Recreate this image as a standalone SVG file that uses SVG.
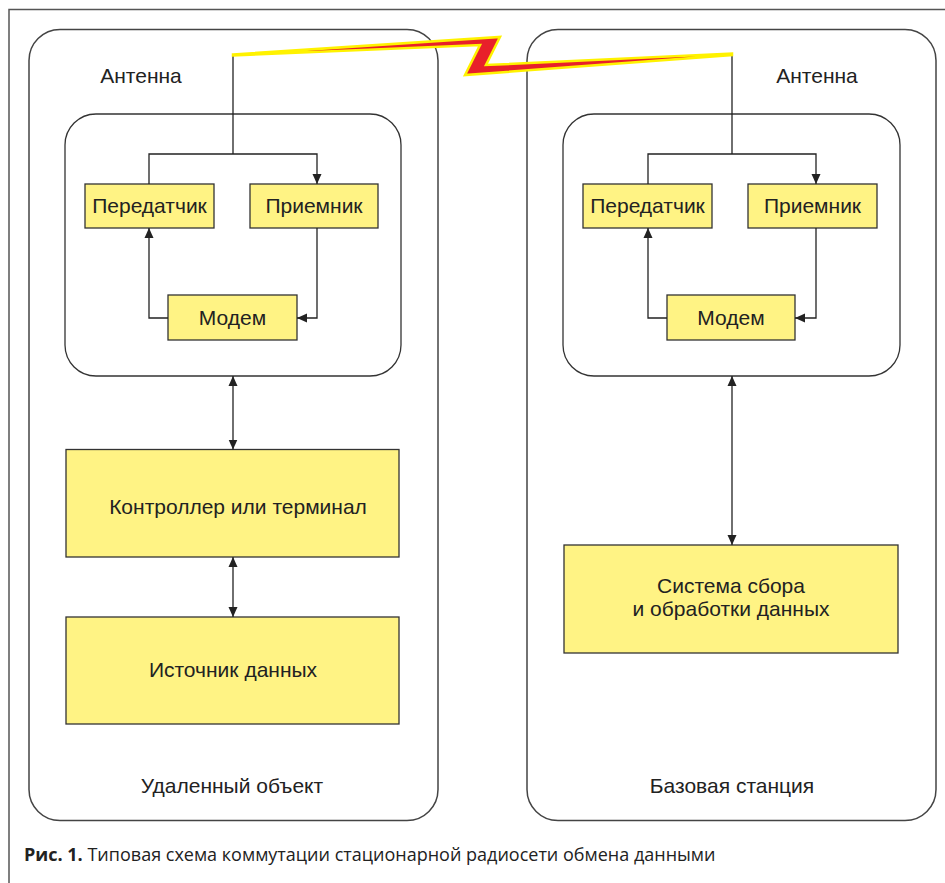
<svg xmlns="http://www.w3.org/2000/svg" width="945" height="883" viewBox="0 0 945 883">
<defs>
<style>
.frame{fill:none;stroke:#555;stroke-width:1.5}
.outer{fill:#fff;stroke:#444;stroke-width:1.5}
.inner{fill:#fff;stroke:#333;stroke-width:1.3}
.blk{fill:#fff384;stroke:#333;stroke-width:1.3}
.lbl{font-family:"Liberation Sans",Arial,sans-serif;font-size:21px;fill:#222;text-anchor:middle}
.cap{font-family:"Open Sans","Noto Sans",sans-serif;font-size:18px;fill:#222}
.ln{fill:none;stroke:#222;stroke-width:1.3}
</style>
<marker id="ah" viewBox="0 0 10 10" refX="10" refY="5" markerWidth="10" markerHeight="10" markerUnits="userSpaceOnUse" orient="auto-start-reverse">
<path d="M0,0.5 L10,5 L0,9.5 Z" fill="#222"/>
</marker>
</defs>
<rect width="945" height="883" fill="#fff"/>
<path class="frame" d="M9,883 V9.5 H945"/>

<g id="remote">
<rect class="outer" x="29" y="29.5" width="409" height="791" rx="31" ry="31"/>
<text class="lbl" x="232" y="793">Удаленный объект</text>
</g>
<g id="base">
<rect class="outer" x="527" y="29.5" width="409" height="791" rx="31" ry="31"/>
<text class="lbl" x="732" y="793">Базовая станция</text>
</g>

<g id="radio-left">
<rect class="inner" x="65" y="114" width="336" height="262" rx="31" ry="31"/>
</g>
<g id="radio-right">
<rect class="inner" x="563" y="114" width="337" height="262" rx="31" ry="31"/>
</g>

<g id="antenna-left"><text class="lbl" x="141" y="83">Антенна</text></g>
<g id="antenna-right"><text class="lbl" x="817" y="83">Антенна</text></g>

<g id="tx-left"><rect class="blk" x="85" y="184" width="129" height="44"/><text class="lbl" x="149.5" y="213">Передатчик</text></g>
<g id="rx-left"><rect class="blk" x="250" y="184" width="128" height="44"/><text class="lbl" x="314" y="213">Приемник</text></g>
<g id="modem-left"><rect class="blk" x="168" y="295" width="129" height="45"/><text class="lbl" x="232.5" y="325">Модем</text></g>

<g id="tx-right"><rect class="blk" x="583" y="184" width="129" height="44"/><text class="lbl" x="647.5" y="213">Передатчик</text></g>
<g id="rx-right"><rect class="blk" x="748" y="184" width="129" height="44"/><text class="lbl" x="812.5" y="213">Приемник</text></g>
<g id="modem-right"><rect class="blk" x="667" y="295" width="128" height="45"/><text class="lbl" x="731" y="325">Модем</text></g>

<g id="controller"><rect class="blk" x="66" y="449.5" width="333" height="107.5"/><text class="lbl" x="238" y="514">Контроллер или терминал</text></g>
<g id="source"><rect class="blk" x="66" y="617" width="333" height="107"/><text class="lbl" x="233" y="677">Источник данных</text></g>
<g id="system"><rect class="blk" x="564" y="545" width="334" height="108"/><text class="lbl" x="731" y="593">Система сбора</text><text class="lbl" x="731" y="616">и обработки данных</text></g>

<g id="connectors">
<path class="ln" d="M233,55 V154"/>
<path class="ln" d="M149,184 V154 H317 V184" marker-end="url(#ah)"/>
<path class="ln" d="M168,318 H149 V228" marker-end="url(#ah)"/>
<path class="ln" d="M317,228 V318 H297" marker-end="url(#ah)"/>
<path class="ln" d="M233,376 V449.5" marker-start="url(#ah)" marker-end="url(#ah)"/>
<path class="ln" d="M233,557 V617" marker-start="url(#ah)" marker-end="url(#ah)"/>
<path class="ln" d="M732,54 V154"/>
<path class="ln" d="M648,184 V154 H816 V184" marker-end="url(#ah)"/>
<path class="ln" d="M667,318 H648 V228" marker-end="url(#ah)"/>
<path class="ln" d="M816,228 V318 H795" marker-end="url(#ah)"/>
<path class="ln" d="M732,376 V545" marker-start="url(#ah)" marker-end="url(#ah)"/>
</g>

<g id="radio-link">
<polygon points="233,54.5 500,37 486,65 732,53.5 732,55 465,75 480,45 233,55.5" fill="#e8202a" stroke="#fff200" stroke-width="2.5" stroke-linejoin="miter"/>
</g>

<text class="cap" x="24" y="861"><tspan font-weight="bold">Рис. 1.</tspan> Типовая схема коммутации стационарной радиосети обмена данными</text>
</svg>
